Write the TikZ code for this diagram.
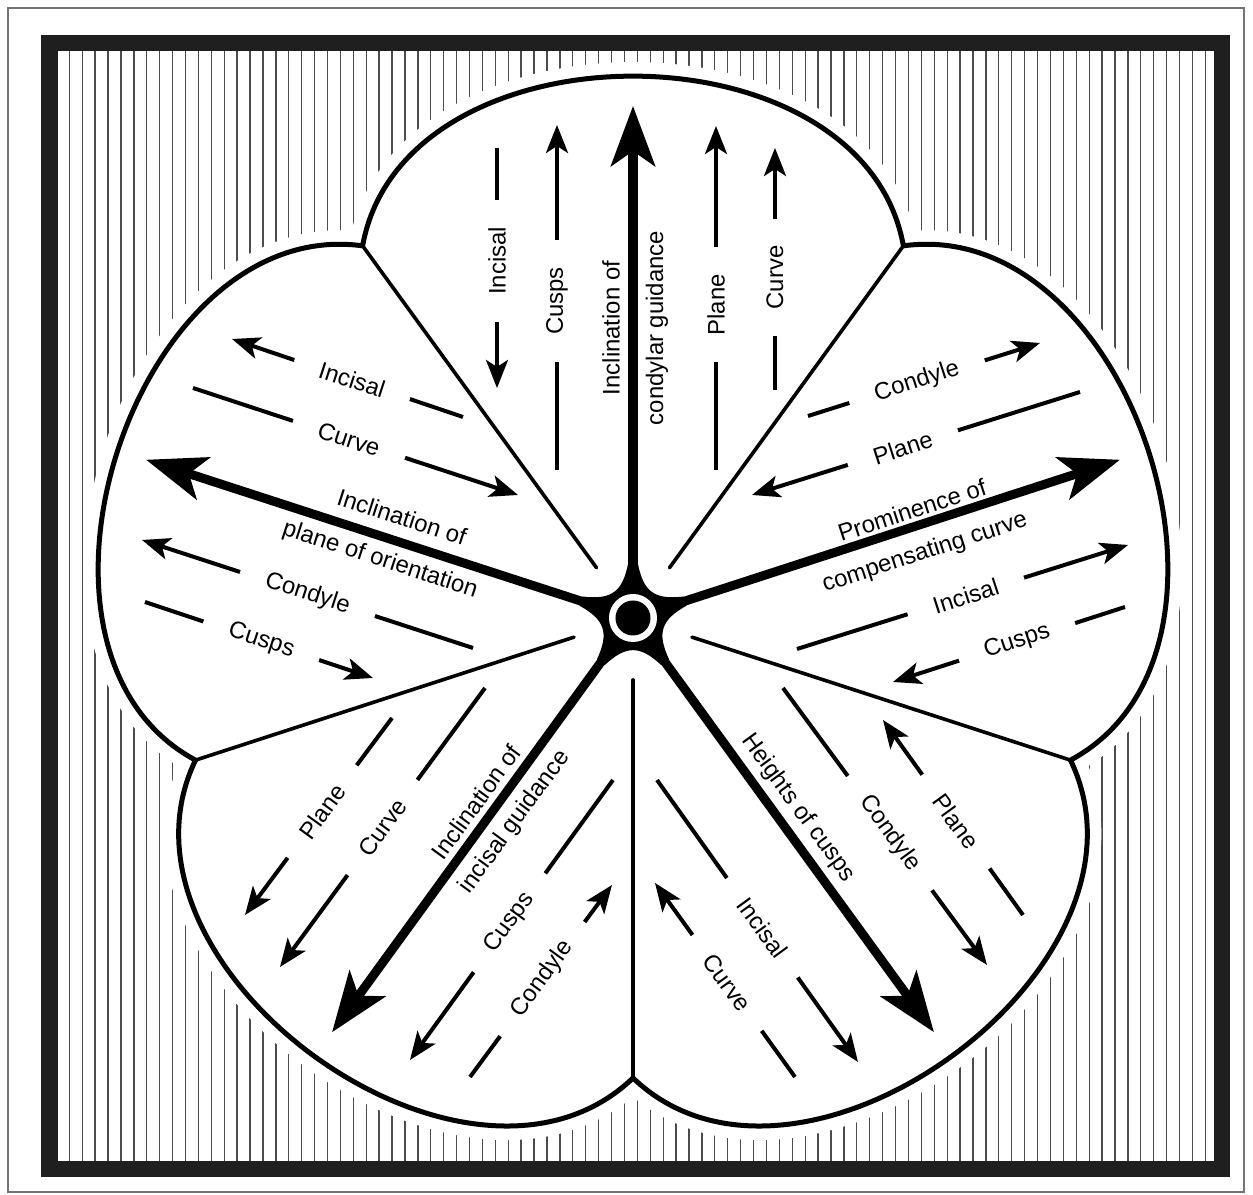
\documentclass[tikz,border=0pt]{standalone}
\usepackage{fontspec}
\setmainfont{Liberation Sans}
\usetikzlibrary{arrows.meta}
\newcommand{\lblfont}{\fontsize{6.8}{8}\selectfont}
\tikzset{
  frame/.style={line width=0.16cm, draw=black!88},
  hatch/.style={line width=0.013cm, black!70},
  lobe/.style={line width=0.05cm, line join=round},
  halo/.style={draw=white, fill=white, line width=0.28cm},
  divider/.style={line width=0.036cm, line cap=round},
  mainarrow/.style={line width=0.09cm, -{Stealth[length=0.6cm,width=0.44cm,inset=0.15cm]}},
  thinarrow/.style={line width=0.04cm, -{Stealth[length=0.28cm,width=0.22cm,inset=0.07cm]}},
  word/.style={fill=white, inner xsep=0.27cm, inner ysep=0.03cm, font=\lblfont},
  axislabel/.style={inner sep=0pt, font=\lblfont}
}

\begin{document}
\begin{tikzpicture}[x=0.01cm,y=-0.01cm]
  \useasboundingbox (0,0) rectangle (1253,1195);
  \draw[black!55, line width=0.015cm] (8,8) rectangle (1244,1192);

  % hatching inside the frame
  \begin{scope}
    \clip (57,51) rectangle (1214,1161);
    \foreach \i in {0,...,88}
      \draw[hatch] ({69.3+12.91*\i},51) -- ++(0,1110);
  \end{scope}
  \draw[frame] (49.5,43.5) rectangle (1222,1169.5);

  % five lobes, spokes and hub
  \begin{scope}[shift={(633,618)}]
    \path[halo] (-126:460) \foreach \a in {-90,-18,54,126,198}
      { .. controls ({\a-21}:641) and ({\a+21}:641) .. ({\a+36}:460) } -- cycle;
    \draw[lobe] (-126:460) \foreach \a in {-90,-18,54,126,198}
      { .. controls ({\a-21}:641) and ({\a+21}:641) .. ({\a+36}:460) } -- cycle;
    \foreach \a in {-126,-54,18,90,162}
      \draw[divider] (\a:460) -- (\a:62);
    \foreach \a in {-162,-90,-18,54,126}
      \draw[mainarrow] (\a:20) -- (\a:512);
    \fill (-157:55) \foreach \a in {-162,-90,-18,54,126}
      { .. controls ({\a+22}:28) and ({\a+50}:28) .. ({\a+67}:55) -- ({\a+77}:55) } -- cycle;
    \fill[white] (0,0) circle (0.24cm);
    \fill (0,0) circle (0.175cm);
  \end{scope}

  % top lobe
  \draw[thinarrow] (497,148) -- node[word,pos=.47,rotate=90] {Incisal} (497,388);
  \draw[thinarrow] (557,470) -- node[word,pos=.49,rotate=90] {Cusps} (557,125);
  \draw[thinarrow] (716,470) -- node[word,pos=.48,rotate=90] {Plane} (716,126);
  \draw[thinarrow] (775,390) -- node[word,pos=.465,rotate=90] {Curve} (775,148);
  \node[axislabel,rotate=90] at (611,328) {Inclination of};
  \node[axislabel,rotate=90] at (657,328) {condylar guidance};

  % left lobe
  \draw[thinarrow] (463,417) -- node[word,pos=.48,rotate=-18] {Incisal} (232,339);
  \draw[thinarrow] (193,388) -- node[word,pos=.48,rotate=-18] {Curve} (518,495);
  \draw[thinarrow] (473,648) -- node[word,pos=.50,rotate=-18] {Condyle} (142,540);
  \draw[thinarrow] (145,602) -- node[word,pos=.51,rotate=-18] {Cusps} (373,678);
  \node[axislabel,rotate=-18] at (402,517) {Inclination of};
  \node[axislabel,rotate=-18] at (380,560) {plane of orientation};

  % right lobe
  \draw[thinarrow] (808,416) -- node[word,pos=.47,rotate=18] {Condyle} (1040,343);
  \draw[thinarrow] (1080,392) -- node[word,pos=.54,rotate=18] {Plane} (752,495);
  \draw[thinarrow] (797,649) -- node[word,pos=.51,rotate=18] {Incisal} (1128,545);
  \draw[thinarrow] (1125,607) -- node[word,pos=.465,rotate=18] {Cusps} (893,682);
  \node[axislabel,rotate=18] at (912,510) {Prominence of};
  \node[axislabel,rotate=18] at (925,553) {compensating curve};

  % bottom-left lobe
  \draw[thinarrow] (392,718) -- node[word,pos=.475,rotate=54] {Plane} (245,915);
  \draw[thinarrow] (485,688) -- node[word,pos=.50,rotate=54] {Curve} (280,967);
  \draw[thinarrow] (613,780) -- node[word,pos=.51,rotate=54] {Cusps} (410,1060);
  \draw[thinarrow] (470,1077) -- node[word,pos=.51,rotate=54] {Condyle} (612,885);
  \node[axislabel,rotate=54] at (476,802) {Inclination of};
  \node[axislabel,rotate=54] at (515,822) {incisal guidance};

  % bottom-right lobe
  \draw[thinarrow] (657,780) -- node[word,pos=.524,rotate=-54] {Incisal} (858,1062);
  \draw[thinarrow] (795,1077) -- node[word,pos=.485,rotate=-54] {Curve} (655,883);
  \draw[thinarrow] (783,688) -- node[word,pos=.524,rotate=-54] {Condyle} (987,965);
  \draw[thinarrow] (1023,915) -- node[word,pos=.479,rotate=-54] {Plane} (883,720);
  \node[axislabel,rotate=-54] at (798,808) {Heights of cusps};
\end{tikzpicture}
\end{document}
